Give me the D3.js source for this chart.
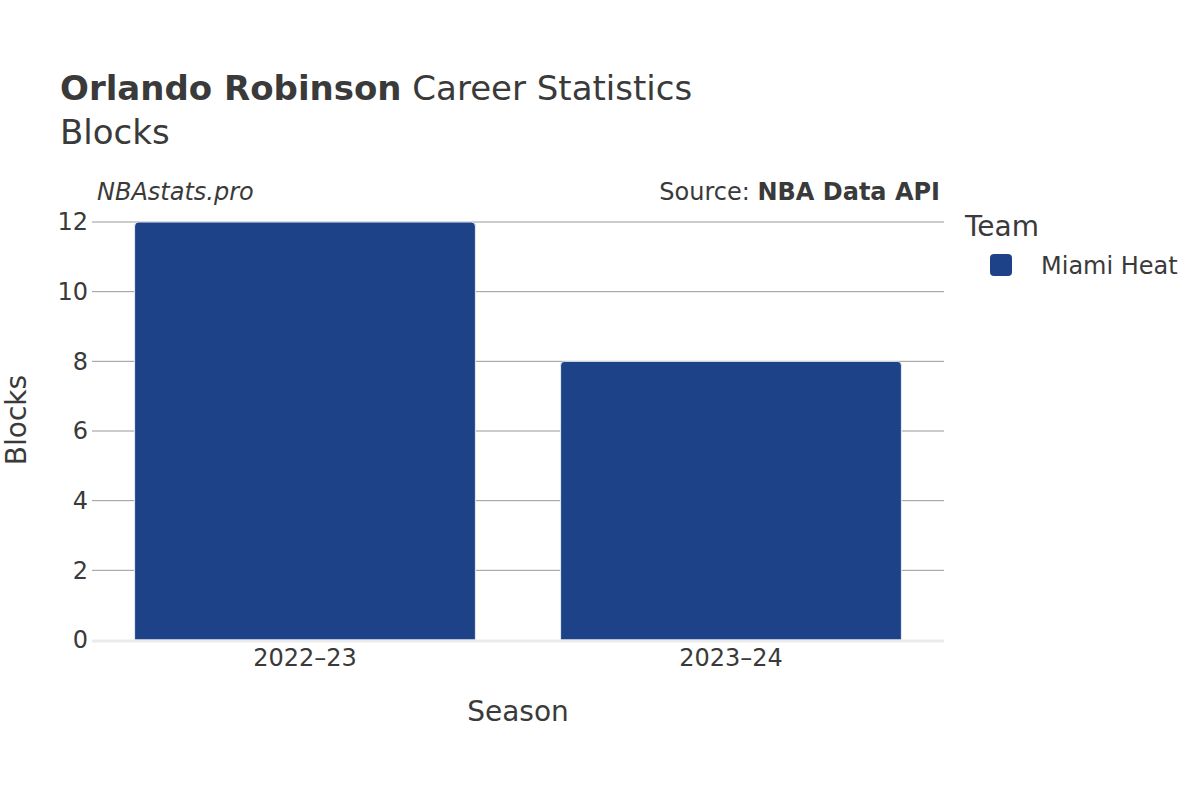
<!DOCTYPE html>
<html><head><meta charset="utf-8">
<script src="https://cdn.jsdelivr.net/npm/d3@7"></script>
<style>body{margin:0;background:#fff;} text{font-family:"DejaVu Sans",sans-serif;fill:#3a3a3a;}</style>
</head><body>
<svg id="c" width="1200" height="800"></svg>
<script>
const seasons = ["2022\u201323", "2023\u201324"];
const blocks = [12, 8];
const yTicks = [0, 2, 4, 6, 8, 10, 12];
const team = "Miami Heat";
const teamColor = "#1d4287";

const svg = d3.select("#c");
const m = {l: 92, r: 944, t: 222, b: 640};
const x = d3.scaleBand().domain(seasons).range([m.l, m.r]).paddingInner(0.2).paddingOuter(0.1);
const y = d3.scaleLinear().domain([0, 12]).range([m.b, m.t]);

// gridlines
svg.append("g").selectAll("line").data(yTicks.filter(d => d !== 0)).join("line")
  .attr("x1", m.l).attr("x2", m.r).attr("y1", d => y(d)).attr("y2", d => y(d))
  .attr("stroke", "#999").attr("stroke-width", 1);

// bars with rounded top
const r = 4;
svg.append("g").selectAll("path").data(seasons.map((s, i) => ({s, v: blocks[i]}))).join("path")
  .attr("d", d => {
    const x0 = x(d.s), x1 = x0 + x.bandwidth(), y0 = y(d.v), yb = y(0);
    return `M${x0},${yb}V${y0 + r}Q${x0},${y0} ${x0 + r},${y0}H${x1 - r}Q${x1},${y0} ${x1},${y0 + r}V${yb}Z`;
  })
  .attr("fill", teamColor).attr("stroke", "#e8ecf4").attr("stroke-width", 1);

// zero line
svg.append("line").attr("x1", m.l).attr("x2", m.r).attr("y1", y(0) + 1).attr("y2", y(0) + 1)
  .attr("stroke", "#ebebeb").attr("stroke-width", 3);

// y axis labels
const yAxis = d3.axisLeft(y).tickValues(yTicks).tickSize(0).tickPadding(3);
const ga = svg.append("g").attr("transform", `translate(${m.l - 1},0)`).call(yAxis);
ga.select(".domain").remove();
ga.selectAll("text").attr("font-size", 24).attr("fill", "#3a3a3a").attr("font-family", "DejaVu Sans");

// x axis labels
const xAxis = d3.axisBottom(x).tickSize(0).tickPadding(9);
const gx = svg.append("g").attr("transform", `translate(0,${m.b})`).call(xAxis);
gx.select(".domain").remove();
gx.selectAll("text").attr("font-size", 24).attr("fill", "#3a3a3a").attr("font-family", "DejaVu Sans");

// titles
const t = svg.append("text").attr("x", 60).attr("y", 100).attr("font-size", 34);
t.append("tspan").attr("font-weight", "bold").text("Orlando Robinson");
t.append("tspan").text(" Career Statistics");
svg.append("text").attr("x", 60).attr("y", 144).attr("font-size", 34).text("Blocks");

svg.append("text").attr("x", 97).attr("y", 200).attr("font-size", 24).attr("font-style", "italic").text("NBAstats.pro");
const src = svg.append("text").attr("x", 940).attr("y", 200).attr("font-size", 24).attr("text-anchor", "end");
src.append("tspan").text("Source: ");
src.append("tspan").attr("font-weight", "bold").text("NBA Data API");

svg.append("text").attr("x", 518).attr("y", 721).attr("font-size", 28).attr("text-anchor", "middle").text("Season");
svg.append("text").attr("transform", "translate(26,420) rotate(-90)").attr("font-size", 28).attr("text-anchor", "middle").text("Blocks");

// legend
svg.append("text").attr("x", 965).attr("y", 236).attr("font-size", 28).text("Team");
svg.append("rect").attr("x", 990).attr("y", 254).attr("width", 22).attr("height", 22).attr("rx", 4).attr("fill", teamColor);
svg.append("text").attr("x", 1041).attr("y", 274).attr("font-size", 24).text(team);
</script>
</body></html>
